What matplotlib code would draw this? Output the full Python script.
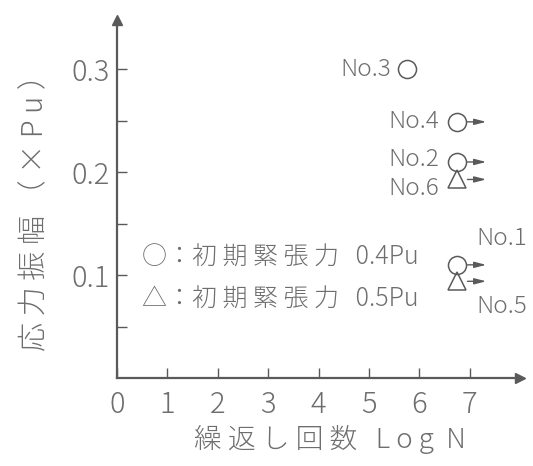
import matplotlib.pyplot as plt
from matplotlib.transforms import offset_copy

plt.rcParams['font.family'] = ['Noto Sans CJK JP', 'DejaVu Sans']

# fatigue test results, one entry per specimen
circle_no = ['No.1', 'No.2', 'No.3', 'No.4']
circle_logn = [6.75, 6.75, 5.75, 6.75]
circle_amp = [0.110, 0.210, 0.300, 0.249]
circle_runout = [True, True, False, True]

tri_no = ['No.5', 'No.6']
tri_logn = [6.75, 6.75]
tri_amp = [0.094, 0.193]
tri_runout = [True, True]

x_ticks = [0, 1, 2, 3, 4, 5, 6, 7]
y_ticks = [0.1, 0.2, 0.3]
y_minor = [0.05, 0.15, 0.25]

ink = '#5a5a5a'
txt = '#6e6e6e'


def spaced(s):
    # wide tracking like the drafted lettering
    return ' '.join(s)


fig = plt.figure(figsize=(5.33, 4.66), dpi=100)
ax = fig.add_axes([117 / 533, 88 / 466, 403 / 533, 358 / 466])
ax.set_xlim(0, 8.0)
ax.set_ylim(0, 0.348)

for s in ['top', 'right']:
    ax.spines[s].set_visible(False)
for s in ['left', 'bottom']:
    ax.spines[s].set_color(ink)
    ax.spines[s].set_linewidth(1.6)

# arrow heads at the axis ends
ax.plot(1, 0, marker='>', color=ink, ms=7, transform=ax.get_yaxis_transform(), clip_on=False)
ax.plot(0, 1, marker='^', color=ink, ms=7, transform=ax.get_xaxis_transform(), clip_on=False)

ax.set_xticks(x_ticks)
ax.set_xticklabels([str(v) for v in x_ticks])
ax.set_yticks(y_ticks)
ax.set_yticklabels([f'{v:.1f}' for v in y_ticks])
ax.set_yticks(y_minor, minor=True)
ax.tick_params(axis='both', which='both', direction='in', length=7, width=1, color=ink,
               labelcolor=txt, labelsize=21)
ax.tick_params(axis='x', pad=8)
ax.tick_params(axis='y', pad=5)
for lab in ax.get_xticklabels() + ax.get_yticklabels():
    lab.set_fontweight('light')

ax.set_xlabel(spaced('繰返し回数') + '   L o g  N', fontsize=20, color=txt, fontweight='light', va='center')
ax.xaxis.set_label_coords(0.529, -0.173)
ax.set_ylabel(spaced('応力振幅') + ' （ × P u ）', fontsize=21, color=txt, fontweight='light', va='center')
ax.yaxis.set_label_coords(-0.203, 0.483)

ax.plot(circle_logn, circle_amp, 'o', ms=13, mfc='white', mec=ink, mew=1.1, clip_on=False, zorder=3)
ax.plot(tri_logn, tri_amp, '^', ms=13.5, mfc='none', mec=ink, mew=1.1, clip_on=False, zorder=3)

# run-out arrows for specimens that did not fail
start = offset_copy(ax.transData, fig=fig, x=7.5, units='points')
end = offset_copy(ax.transData, fig=fig, x=21, units='points')
for x, y, r in zip(circle_logn + tri_logn, circle_amp + tri_amp, circle_runout + tri_runout):
    if r:
        ax.annotate('', xy=(x, y), xycoords=end, xytext=(x, y), textcoords=start,
                    arrowprops=dict(arrowstyle='-|>,head_length=0.7,head_width=0.18',
                                    color=ink, lw=1.0, shrinkA=0, shrinkB=0))

# specimen labels
lab_off = {'No.1': (14, 19, 'left'), 'No.2': (-13, 2, 'right'), 'No.3': (-11.5, 0, 'right'),
           'No.4': (-13, 0, 'right'), 'No.5': (14, -18, 'left'), 'No.6': (-13, -6.5, 'right')}
for n, x, y in zip(circle_no + tri_no, circle_logn + tri_logn, circle_amp + tri_amp):
    dx, dy, ha = lab_off[n]
    ax.annotate(n, xy=(x, y), xytext=(dx, dy), textcoords='offset points', ha=ha, va='center',
                fontsize=17.5, color=txt, fontweight='light')

ax.text(0.5, 0.117, '○：' + spaced('初期緊張力') + '   0.4Pu', fontsize=18, color=txt,
        va='center', fontweight='light')
ax.text(0.5, 0.076, '△：' + spaced('初期緊張力') + '   0.5Pu', fontsize=18, color=txt,
        va='center', fontweight='light')

fig.savefig('out.png', dpi=100)
